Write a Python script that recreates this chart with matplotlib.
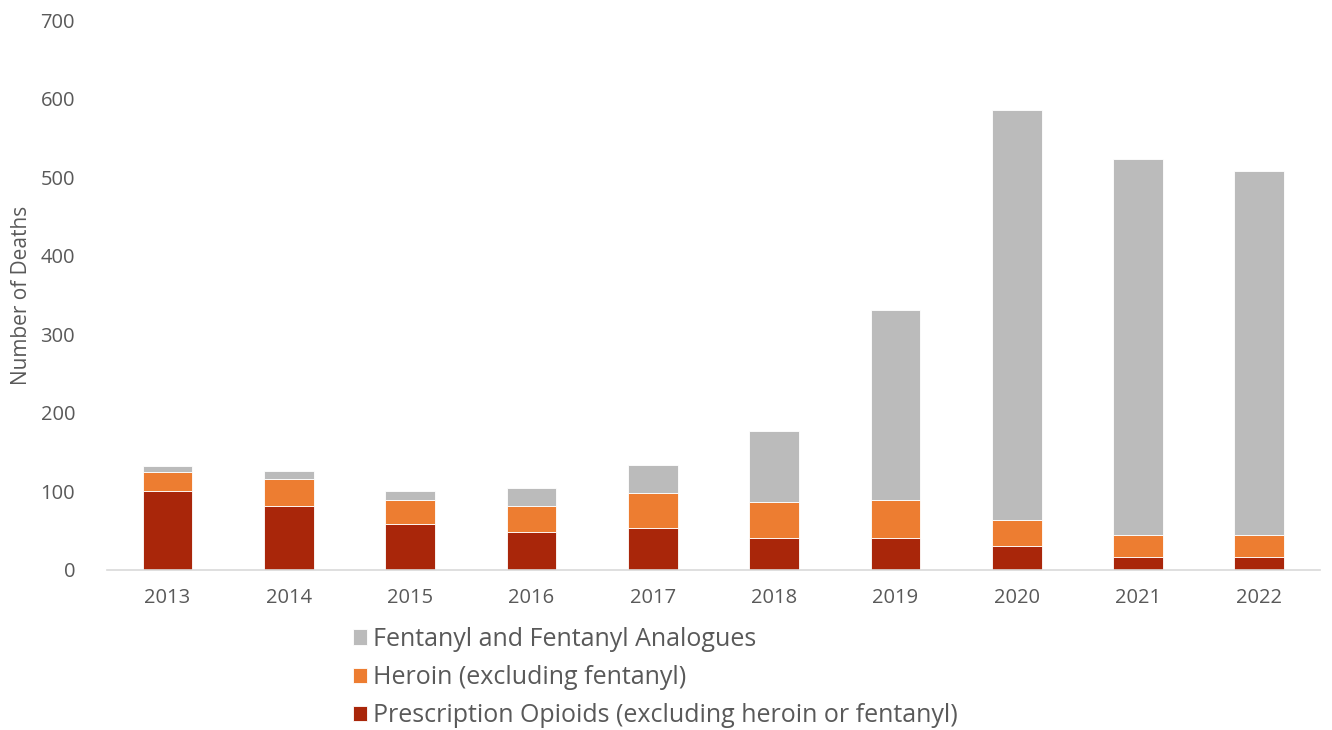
import matplotlib
matplotlib.use('Agg')
import matplotlib.pyplot as plt
import numpy as np

plt.rcParams['font.family'] = ['Open Sans', 'DejaVu Sans']

# Data
years = ['2013', '2014', '2015', '2016', '2017', '2018', '2019', '2020', '2021', '2022']
prescription = [100, 82, 58, 48, 53, 41, 41, 30, 16, 17]
heroin = [25, 34, 31, 34, 45, 46, 48, 34, 29, 27]
fentanyl = [7, 10, 11, 22, 36, 90, 242, 522, 478, 464]
yticks = [0, 100, 200, 300, 400, 500, 600, 700]

RED = '#A9260A'
ORANGE = '#ED7D31'
GRAY = '#BBBBBB'
TXT = '#595959'

fig = plt.figure(figsize=(13.32, 7.3), dpi=100)
ax = fig.add_axes([0.0803, 0.2192, 0.9107, 0.7534])

x = np.arange(len(years))
w = 0.41
b1 = ax.bar(x, prescription, w, color=RED, edgecolor='white', linewidth=0.6,
            label='Prescription Opioids (excluding heroin or fentanyl)')
base2 = np.array(prescription)
b2 = ax.bar(x, heroin, w, bottom=base2, color=ORANGE, edgecolor='white', linewidth=0.6,
            label='Heroin (excluding fentanyl)')
base3 = base2 + np.array(heroin)
b3 = ax.bar(x, fentanyl, w, bottom=base3, color=GRAY, edgecolor='white', linewidth=0.6,
            label='Fentanyl and Fentanyl Analogues')

ax.set_xlim(-0.5, len(years) - 0.5)
ax.set_ylim(0, 700)
ax.set_yticks(yticks)
ax.set_xticks(x)
ax.set_xticklabels(years)
ax.tick_params(axis='both', length=0, labelsize=14.5, colors=TXT)
ax.tick_params(axis='y', pad=23)
ax.tick_params(axis='x', pad=13)
for s in ['top', 'right', 'left']:
    ax.spines[s].set_visible(False)
ax.spines['bottom'].set_color('#D9D9D9')
ax.spines['bottom'].set_linewidth(1.2)
ax.set_ylabel('Number of Deaths', fontsize=15, color=TXT)
ax.yaxis.set_label_coords(-0.0615, 0.5)

fig.legend(handles=[b3, b2, b1], loc='upper left', bbox_to_anchor=(0.2575, 0.155),
           bbox_transform=fig.transFigure, frameon=False, fontsize=18,
           labelcolor=TXT, handlelength=0.55, handleheight=0.55, handletextpad=0.25,
           labelspacing=0.53, borderaxespad=0)

fig.savefig('out.png', dpi=100, facecolor='white')
